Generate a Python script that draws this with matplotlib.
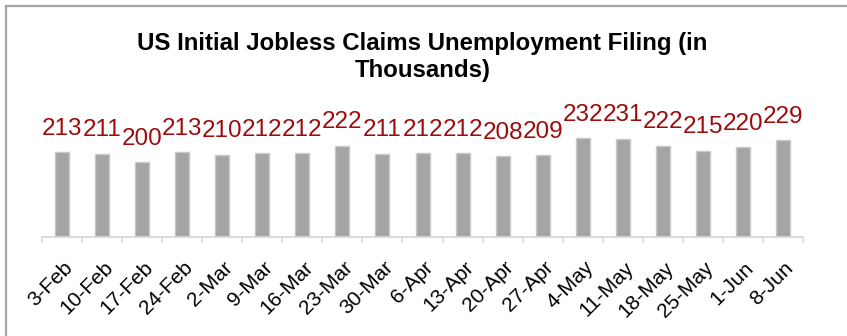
import matplotlib
matplotlib.use("Agg")
import matplotlib.pyplot as plt
import matplotlib.transforms as mtransforms
from matplotlib.lines import Line2D
import numpy as np

plt.rcParams['font.family'] = ['Liberation Sans', 'DejaVu Sans']

# weekly initial jobless claims, thousands
weeks = ['3-Feb', '10-Feb', '17-Feb', '24-Feb', '2-Mar', '9-Mar', '16-Mar',
         '23-Mar', '30-Mar', '6-Apr', '13-Apr', '20-Apr', '27-Apr', '4-May',
         '11-May', '18-May', '25-May', '1-Jun', '8-Jun']
claims = [213, 211, 200, 213, 210, 212, 212, 222, 211, 212, 212, 208, 209,
          232, 231, 222, 215, 220, 229]

fig = plt.figure(figsize=(8.47, 3.36), dpi=100)
ax = fig.add_axes([0.0496, 0.2946, 0.8985, 0.4464])

x = np.arange(len(weeks))
bars = ax.bar(x, claims, width=0.35, color='#a5a5a5', edgecolor='#c9c9c9',
              linewidth=1.0, zorder=2)

# value labels above each bar
for xi, v in zip(x, claims):
    ax.annotate(str(v), (xi, v), xytext=(0, 9), textcoords='offset points',
                ha='center', va='bottom', fontsize=17.5, color='#9c0c0c')

ax.set_xlim(-0.5, len(weeks) - 0.5)
ax.set_ylim(100, 300)

for side in ['top', 'right', 'left']:
    ax.spines[side].set_visible(False)
ax.spines['bottom'].set_color('#d9d9d9')
ax.spines['bottom'].set_linewidth(1.3)
ax.set_yticks([])

# ticks sit between categories, labels at category centres
ax.set_xticks(np.arange(-0.5, len(weeks)), minor=False)
ax.set_xticklabels([])
ax.tick_params(axis='x', which='major', length=4.5, width=1.2, color='#d9d9d9')
ax.set_xticks(x, minor=True)
ax.set_xticklabels(weeks, minor=True, rotation=45, ha='right', va='top',
                   rotation_mode='anchor', fontsize=15, color='black')
ax.tick_params(axis='x', which='minor', length=0, pad=15)
offset = mtransforms.ScaledTranslation(1 / 100, 0, fig.dpi_scale_trans)
for lbl in ax.get_xticklabels(minor=True):
    lbl.set_transform(lbl.get_transform() + offset)

fig.text(0.4988, 1 - 32 / 336,
         'US Initial Jobless Claims Unemployment Filing (in\nThousands)',
         ha='center', va='top', fontsize=17.3, fontweight='bold',
         linespacing=1.25)

# chart frame (top and left edges)
fig.add_artist(Line2D([6 / 847, 1], [1 - 6 / 336, 1 - 6 / 336],
                      transform=fig.transFigure, color='#a6a6a6', linewidth=1.6))
fig.add_artist(Line2D([6 / 847, 6 / 847], [0, 1 - 6 / 336],
                      transform=fig.transFigure, color='#a6a6a6', linewidth=1.6))

fig.savefig('out.png', dpi=100)
